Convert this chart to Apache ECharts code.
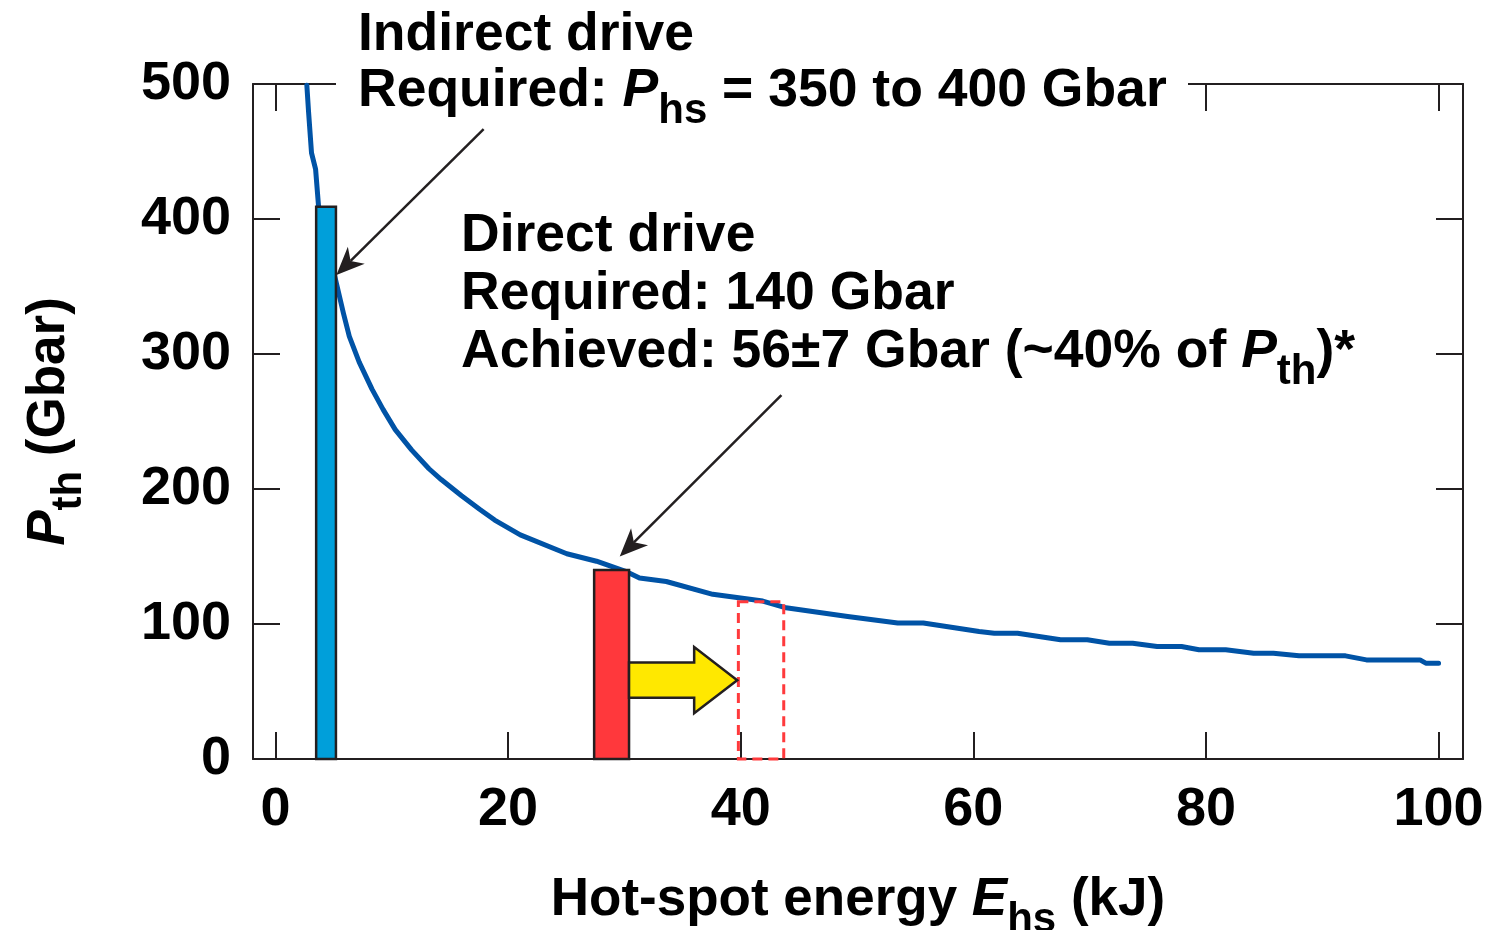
<!DOCTYPE html>
<html>
<head>
<meta charset="utf-8">
<script src="https://cdn.jsdelivr.net/npm/echarts@6/dist/echarts.min.js"></script>
<style>
  html, body { margin: 0; padding: 0; background: #fff; }
  #chart { width: 1485px; height: 930px; }
</style>
</head>
<body>
<div id="chart"></div>
<script>
// Threshold pressure curve P_th versus hot-spot energy E_hs
const energyKJ = [2.7, 2.85, 3.1, 3.45, 3.7, 5.25, 5.85, 6.35, 7.2, 8.3,
  9.25, 10.3, 11.7, 13.2, 14.25, 16.0, 17.55, 18.85, 21.05, 25.05,
  27.6, 30.1, 31.3, 33.6, 37.6, 41.9, 43.9, 49.2, 53.5, 55.7,
  60.5, 61.8, 63.8, 67.5, 69.8, 71.7, 73.7, 75.8, 77.9, 79.4,
  81.7, 84.1, 85.8, 88.0, 92.0, 93.8, 98.4, 98.9, 100];
const pressureGbar = [499, 479, 449, 437, 410, 352, 330, 313, 294, 274,
  259, 244, 229, 215, 207, 195, 185, 177, 166, 152,
  146.5, 139, 134, 131.5, 122, 117, 112, 105.5, 100.7, 100.7,
  94.4, 93.2, 93.2, 88.3, 88.3, 85.8, 85.8, 83.3, 83.3, 80.9,
  80.9, 78.4, 78.4, 76.4, 76.4, 73.4, 73.4, 71, 71];

// Axis ticks
const xTicks = [0, 20, 40, 60, 80, 100];
const yTicks = [0, 100, 200, 300, 400, 500];

// Required-pressure bars: [E start, E end, pressure]
const indirectBar = [3.5, 5.2, 409];
const directBar = [27.4, 30.4, 140];
// Projected direct-drive target (dashed): [E start, E end, pressure]
const projectedBox = [39.8, 43.7, 116.5];

// Yellow shift arrow: [E from, E head base, E tip, P centre, shaft half-height, head half-height]
const shiftArrow = [30.4, 36.0, 39.7, 58.4, 13.0, 24.5];

// Callout pointers: [E start, P start, E tip, P tip]
const pointerIndirect = [17.9, 466.5, 5.24, 358.5];
const pointerDirect = [43.5, 269.6, 29.6, 150];

const FONT = '"Liberation Sans", Arial, Helvetica, sans-serif';
const INK = '#231f20';
const LH = 56;

function richStyles(lh, size) {
  const sub = Math.round(size * 0.79);
  return {
    n: { fontSize: size, fontWeight: 'bold', fontFamily: FONT, color: '#000', lineHeight: lh },
    i: { fontSize: size, fontWeight: 'bold', fontStyle: 'italic', fontFamily: FONT, color: '#000', lineHeight: lh },
    s: { fontSize: sub, fontWeight: 'bold', fontFamily: FONT, color: '#000', lineHeight: lh, padding: [40, 0, 0, 0] }
  };
}

const chart = echarts.init(document.getElementById('chart'), null, { renderer: 'canvas' });

const axisLineStyle = { color: INK, width: 2 };
const tickLabelStyle = { fontSize: 54, fontWeight: 'bold', fontFamily: FONT, color: '#000' };

function rectSeries(box, style) {
  return {
    type: 'custom',
    xAxisIndex: 0, yAxisIndex: 0,
    z: 4,
    clip: false,
    silent: true,
    data: [box],
    renderItem: function (params, api) {
      const p0 = api.coord([api.value(0), 0]);
      const p1 = api.coord([api.value(1), api.value(2)]);
      return {
        type: 'rect',
        shape: { x: p0[0], y: p1[1], width: p1[0] - p0[0], height: p0[1] - p1[1] },
        style: style
      };
    }
  };
}

function pointerSeries(ptr) {
  return {
    type: 'custom',
    xAxisIndex: 0, yAxisIndex: 0,
    z: 5,
    clip: false,
    silent: true,
    data: [ptr],
    renderItem: function (params, api) {
      const a = api.coord([api.value(0), api.value(1)]);
      const b = api.coord([api.value(2), api.value(3)]);
      const dx = b[0] - a[0], dy = b[1] - a[1];
      const len = Math.hypot(dx, dy);
      const ux = dx / len, uy = dy / len;
      const nx = -uy, ny = ux;
      const L = 28, W = 12, N = 8;
      const back = [b[0] - ux * L, b[1] - uy * L];
      const notch = [b[0] - ux * (L - N), b[1] - uy * (L - N)];
      return {
        type: 'group',
        children: [
          { type: 'line', shape: { x1: a[0], y1: a[1], x2: notch[0], y2: notch[1] },
            style: { stroke: INK, lineWidth: 2.5 } },
          { type: 'polygon',
            shape: { points: [b, [back[0] + nx * W, back[1] + ny * W], notch, [back[0] - nx * W, back[1] - ny * W]] },
            style: { fill: INK } }
        ]
      };
    }
  };
}

const option = {
  animation: false,
  backgroundColor: '#fff',
  grid: { left: 253, right: 22, top: 84, bottom: 171, containLabel: false, outerBoundsMode: 'none' },
  xAxis: [
    {
      type: 'value', position: 'bottom', min: -1.93, max: 102.1,
      axisLine: { show: true, onZero: false, lineStyle: axisLineStyle },
      axisTick: { show: true, inside: true, length: 27, lineStyle: axisLineStyle, customValues: xTicks },
      axisLabel: Object.assign({ show: true, margin: 24, customValues: xTicks }, tickLabelStyle),
      splitLine: { show: false },
      name: '{n|Hot-spot energy }{i|E}{s|hs}{n| (kJ)}',
      nameLocation: 'middle', nameGap: 113,
      nameTextStyle: { fontSize: 53, fontWeight: 'bold', fontFamily: FONT, color: '#000', lineHeight: LH, rich: richStyles(LH, 53) }
    },
    {
      type: 'value', position: 'top', min: -1.93, max: 102.1,
      axisLine: { show: true, onZero: false, lineStyle: axisLineStyle },
      axisTick: { show: true, inside: true, length: 27, lineStyle: axisLineStyle, customValues: xTicks },
      axisLabel: { show: false },
      splitLine: { show: false }
    }
  ],
  yAxis: [
    {
      type: 'value', position: 'left', min: 0, max: 500, interval: 100,
      axisLine: { show: true, onZero: false, lineStyle: axisLineStyle },
      axisTick: { show: true, inside: true, length: 27, lineStyle: axisLineStyle },
      axisLabel: Object.assign({ show: true, margin: 22 }, tickLabelStyle),
      splitLine: { show: false },
      name: '{i|P}{s|th}{n| (Gbar)}',
      nameLocation: 'middle', nameGap: 176, nameRotate: 90,
      nameTextStyle: { fontSize: 53, fontWeight: 'bold', fontFamily: FONT, color: '#000', lineHeight: LH, rich: richStyles(LH, 53) }
    },
    {
      type: 'value', position: 'right', min: 0, max: 500, interval: 100,
      axisLine: { show: true, onZero: false, lineStyle: axisLineStyle },
      axisTick: { show: true, inside: true, length: 27, lineStyle: axisLineStyle },
      axisLabel: { show: false },
      splitLine: { show: false }
    }
  ],
  series: [
    {
      type: 'line',
      xAxisIndex: 0, yAxisIndex: 0,
      z: 3,
      data: energyKJ.map((e, k) => [e, pressureGbar[k]]),
      showSymbol: false, symbol: 'none',
      lineStyle: { color: '#0053a6', width: 5, join: 'round', cap: 'round' },
      silent: true
    },
    rectSeries(indirectBar, { fill: '#009fda', stroke: INK, lineWidth: 2.5 }),
    rectSeries(directBar, { fill: '#ff383c', stroke: INK, lineWidth: 2.5 }),
    rectSeries(projectedBox, { fill: 'none', stroke: '#ff3a3c', lineWidth: 3, lineDash: [10, 6] }),
    {
      type: 'custom',
      xAxisIndex: 0, yAxisIndex: 0,
      z: 4, clip: false, silent: true,
      data: [shiftArrow],
      renderItem: function (params, api) {
        const x0 = api.value(0), xb = api.value(1), xt = api.value(2);
        const pc = api.value(3), hs = api.value(4), hh = api.value(5);
        const pts = [
          [x0, pc + hs], [xb, pc + hs], [xb, pc + hh], [xt, pc],
          [xb, pc - hh], [xb, pc - hs], [x0, pc - hs]
        ].map(p => api.coord(p));
        return {
          type: 'polygon',
          shape: { points: pts },
          style: { fill: '#ffe800', stroke: INK, lineWidth: 2.5, lineJoin: 'miter' }
        };
      }
    },
    pointerSeries(pointerIndirect),
    pointerSeries(pointerDirect)
  ],
  graphic: [
    {
      type: 'rect', z: 100, silent: true,
      shape: { x: 336, y: 0, width: 852, height: 128 },
      style: { fill: '#fff' }
    },
    {
      type: 'text', z: 101, silent: true,
      x: 358, y: 7,
      style: {
        text: '{n|Indirect drive}\n{n|Required: }{i|P}{s|hs}{n| = 350 to 400 Gbar}',
        verticalAlign: 'top', align: 'left',
        lineHeight: LH,
        rich: richStyles(LH, 53.5)
      }
    },
    {
      type: 'text', z: 101, silent: true,
      x: 461, y: 207,
      style: {
        text: '{n|Direct drive}\n{n|Required: 140 Gbar}\n{n|Achieved: 56±7 Gbar (~40% of }{i|P}{s|th}{n|)*}',
        verticalAlign: 'top', align: 'left',
        lineHeight: 58,
        rich: richStyles(58, 53.5)
      }
    }
  ]
};

chart.setOption(option);
</script>
</body>
</html>
